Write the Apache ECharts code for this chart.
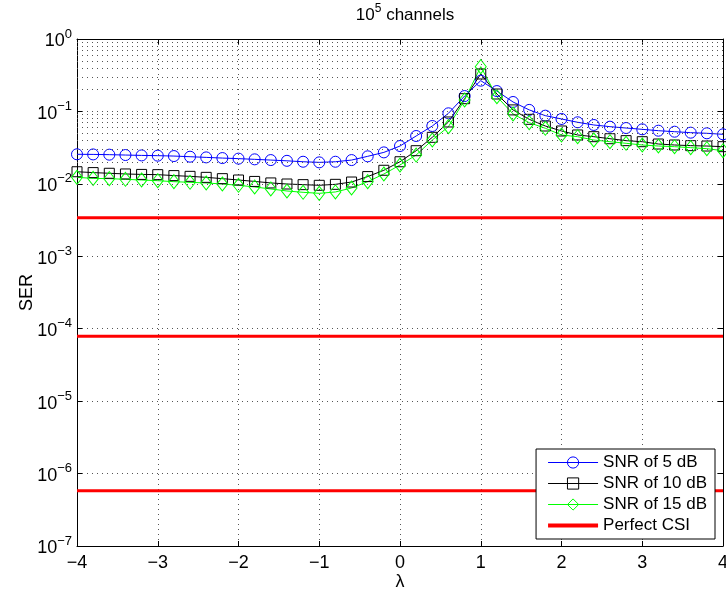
<!DOCTYPE html>
<html>
<head>
<meta charset="utf-8">
<script src="https://cdn.jsdelivr.net/npm/echarts@6/dist/echarts.min.js"></script>
<style>html,body{margin:0;padding:0;background:#fff;}#c{width:726px;height:591px;}</style>
</head>
<body>
<div id="c"></div>
<script>
const lambda = [-4,-3.8,-3.6,-3.4,-3.2,-3,-2.8,-2.6,-2.4,-2.2,-2,-1.8,-1.6,-1.4,-1.2,-1,-0.8,-0.6,-0.4,-0.2,0,0.2,0.4,0.6,0.8,1,1.2,1.4,1.6,1.8,2,2.2,2.4,2.6,2.8,3,3.2,3.4,3.6,3.8,4];
const ser5dB = [0.0256,0.0255,0.0253,0.0250,0.0247,0.0245,0.0242,0.0237,0.0232,0.0227,0.0223,0.0218,0.0213,0.0208,0.0202,0.0198,0.0202,0.0213,0.0240,0.0272,0.0333,0.0458,0.0629,0.0942,0.163,0.266,0.191,0.135,0.105,0.0874,0.0787,0.0708,0.065,0.0616,0.059,0.0566,0.0542,0.0525,0.0509,0.0499,0.0483];
const ser10dB = [0.0147,0.0143,0.0140,0.0137,0.0135,0.0134,0.0130,0.0127,0.0123,0.0118,0.0113,0.0108,0.0103,0.00995,0.00975,0.00955,0.00985,0.0106,0.0126,0.0154,0.0202,0.0287,0.0439,0.0715,0.150,0.329,0.174,0.105,0.0778,0.0629,0.0537,0.0473,0.0448,0.0420,0.0395,0.0382,0.0355,0.0344,0.0337,0.0333,0.0326];
const ser15dB = [0.0123,0.0119,0.0118,0.01155,0.0113,0.01106,0.01072,0.0105,0.01028,0.00995,0.00955,0.00906,0.0085,0.00797,0.00764,0.0074,0.00773,0.00877,0.01072,0.01367,0.0182,0.0250,0.0403,0.0616,0.144,0.415,0.160,0.0922,0.070,0.0585,0.0473,0.0448,0.0403,0.0382,0.0363,0.0344,0.0333,0.0326,0.0316,0.0306,0.0287];
const perfectCSI = [3.4e-3, 7.9e-5, 5.8e-7];
const xRange = [-4, 4];
const yRange = [1e-7, 1];
const seriesNames = ['SNR of 5 dB','SNR of 10 dB','SNR of 15 dB','Perfect CSI'];

const FONT = 'Liberation Sans';
const minorY = [];
for (let e = -7; e < 0; e++) for (let m = 2; m <= 9; m++) minorY.push(m * Math.pow(10, e));

const pairs = arr => lambda.map((x, i) => [x, arr[i]]);
const gridDash = { color: '#555', width: 1, type: [1, 4] };
const supFmt = v => {
  const e = Math.round(Math.log10(v));
  return '{b|10}{s|' + String(e).replace('-', '\u2212') + '}';
};
const rich = {
  b: { fontSize: 18, fontFamily: FONT, color: '#000', verticalAlign: 'bottom' },
  s: { fontSize: 13, fontFamily: FONT, color: '#000', verticalAlign: 'bottom', padding: [0, 0, 10, 0] }
};
const richTitle = {
  b: { fontSize: 17, fontFamily: FONT, color: '#000', fontWeight: 'normal', verticalAlign: 'bottom' },
  s: { fontSize: 12, fontFamily: FONT, color: '#000', fontWeight: 'normal', verticalAlign: 'bottom', padding: [0, 0, 9, 0] }
};
const seriesColors = ['#0000ff', '#000000', '#00ff00', '#ff0000'];

const chart = echarts.init(document.getElementById('c'), null, { renderer: 'canvas' });
const series = [
  {
    name: '_grid', type: 'line', data: [], silent: true, z: 1,
    markLine: { silent: true, symbol: 'none', label: { show: false },
      lineStyle: gridDash, animation: false,
      data: minorY.map(v => ({ yAxis: v })) }
  },
  {
    name: seriesNames[0], type: 'line', data: pairs(ser5dB), z: 4,
    symbol: 'circle', symbolSize: 11,
    lineStyle: { color: seriesColors[0], width: 1 },
    itemStyle: { color: 'rgba(0,0,0,0)', borderColor: seriesColors[0], borderWidth: 1 }
  },
  {
    name: seriesNames[1], type: 'line', data: pairs(ser10dB), z: 4,
    symbol: 'rect', symbolSize: 10,
    lineStyle: { color: seriesColors[1], width: 1 },
    itemStyle: { color: 'rgba(0,0,0,0)', borderColor: seriesColors[1], borderWidth: 1 }
  },
  {
    name: seriesNames[2], type: 'line', data: pairs(ser15dB), z: 4,
    symbol: 'diamond', symbolSize: [11, 14],
    lineStyle: { color: seriesColors[2], width: 1 },
    itemStyle: { color: 'rgba(0,0,0,0)', borderColor: seriesColors[2], borderWidth: 1 }
  }
].concat(perfectCSI.map(v => ({
  name: seriesNames[3], type: 'line', z: 3, symbol: 'none',
  data: [[xRange[0], v], [xRange[1], v]],
  lineStyle: { color: seriesColors[3], width: 3 },
  itemStyle: { color: seriesColors[3] }
})));

chart.setOption({
  animation: false,
  backgroundColor: '#fff',
  title: {
    text: '{b|10}{s|5}{b| channels}',
    left: 400, top: -2, textAlign: 'center',
    textStyle: { fontWeight: 'normal', rich: richTitle }
  },
  grid: { left: 77, right: 3, top: 39, bottom: 45, containLabel: false, outerBoundsMode: 'none' },
  legend: {
    data: seriesNames.slice(0, 3).map((n, i) => ({ name: n,
      lineStyle: { width: 1, color: seriesColors[i] },
      itemStyle: { color: 'rgba(0,0,0,0)', borderColor: seriesColors[i], borderWidth: 1 } }))
      .concat([{ name: seriesNames[3],
      lineStyle: { width: 4, color: seriesColors[3] },
      itemStyle: { color: 'rgba(0,0,0,0)', borderColor: 'rgba(0,0,0,0)', borderWidth: 0 } }]),
    orient: 'vertical', right: 11, bottom: 52,
    backgroundColor: '#fff', borderColor: '#000', borderWidth: 1, borderRadius: 0,
    padding: [5, 8, 5, 10], itemGap: 4, itemWidth: 50, itemHeight: 14,
    textStyle: { fontSize: 17, fontFamily: FONT, color: '#000' },
    selectedMode: false
  },
  xAxis: [
    {
      type: 'value', min: xRange[0], max: xRange[1], interval: 1,
      name: '\u03bb', nameLocation: 'middle', nameGap: 27, nameMoveOverlap: false,
      nameTextStyle: { fontSize: 18, fontFamily: FONT, color: '#000' },
      axisLine: { onZero: false, lineStyle: { color: '#000', width: 1 } },
      axisTick: { inside: true, length: 5, lineStyle: { color: '#000' } },
      axisLabel: { fontSize: 18, fontFamily: FONT, color: '#000', margin: 8,
        formatter: v => String(v).replace('-', '\u2212') },
      splitLine: { show: true, lineStyle: gridDash }
    },
    {
      type: 'value', min: xRange[0], max: xRange[1], interval: 1, position: 'top',
      axisLine: { onZero: false, lineStyle: { color: '#000', width: 1 } },
      axisTick: { inside: true, length: 5, lineStyle: { color: '#000' } },
      axisLabel: { show: false }, splitLine: { show: false }
    }
  ],
  yAxis: [
    {
      type: 'log', logBase: 10, min: yRange[0], max: yRange[1],
      name: 'SER', nameLocation: 'middle', nameGap: 41, nameMoveOverlap: false,
      nameTextStyle: { fontSize: 18, fontFamily: FONT, color: '#000' },
      axisLine: { show: true, onZero: false, lineStyle: { color: '#000', width: 1 } },
      axisTick: { inside: true, length: 5, lineStyle: { color: '#000' } },
      axisLabel: { margin: 5, formatter: supFmt, rich: rich },
      splitLine: { show: true, lineStyle: gridDash }
    },
    {
      type: 'log', logBase: 10, min: yRange[0], max: yRange[1], position: 'right',
      axisLine: { show: true, onZero: false, lineStyle: { color: '#000', width: 1 } },
      axisTick: { inside: true, length: 5, lineStyle: { color: '#000' } },
      axisLabel: { show: false }, splitLine: { show: false }
    }
  ],
  series: series
});
</script>
</body>
</html>
